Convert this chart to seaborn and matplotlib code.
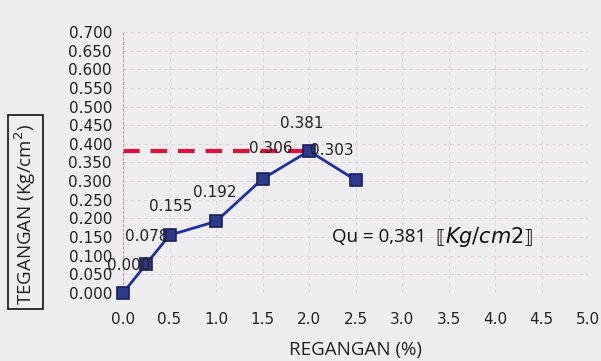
import matplotlib
matplotlib.use("Agg")
import matplotlib.pyplot as plt
from matplotlib.patches import Rectangle
import seaborn as sns
import pandas as pd
import numpy as np

# Strain (%) and stress (Kg/cm2) from the unconfined compression test
regangan = [0.0, 0.25, 0.5, 1.0, 1.5, 2.0, 2.5]
tegangan = [0.000, 0.078, 0.155, 0.192, 0.306, 0.381, 0.303]
label_teks = ["0.000", "0.078", "0.155", "0.192", "0.306", "0.381", "0.303"]
# label offsets in points (dx, dy) relative to each point
label_offset = [(4, 20), (0, 20), (1, 21), (-1, 21), (6, 22), (-5, 20), (-17, 21)]
qu = 0.381

xticks = [0.0, 0.5, 1.0, 1.5, 2.0, 2.5, 3.0, 3.5, 4.0, 4.5, 5.0]
yticks = [round(v, 3) for v in np.arange(0, 0.7001, 0.05)]

sns.set_theme(style="white")
plt.rcParams["font.family"] = ["DejaVu Sans"]

df = pd.DataFrame({"Regangan": regangan, "Tegangan": tegangan})

fig = plt.figure(figsize=(6.01, 3.61), dpi=100)
fig.patch.set_facecolor("#eeeef1")
ax = fig.add_axes([0.2047, 0.1884, 0.7737, 0.7230])
ax.set_facecolor("none")

# faint dashed grid
for yv in yticks[1:]:
    ax.axhline(yv, color="#e0d3d6", lw=0.7, ls=(0, (4, 3)), zorder=0)
for xv in xticks[1:]:
    ax.axvline(xv, color="#e0d3d6", lw=0.7, ls=(0, (4, 3)), zorder=0)

# Qu reference line
ax.plot([0, 2.0], [qu, qu], color="#e0103c", lw=3, ls=(0, (4, 2.6)), zorder=2)

sns.lineplot(data=df, x="Regangan", y="Tegangan", ax=ax, color="#1f2f9c",
             lw=2, marker="s", markersize=8, markerfacecolor="#2d3a8c",
             markeredgecolor="#1a1f5a", markeredgewidth=1.2, zorder=3,
             clip_on=False)

for x, y, t, (dx, dy) in zip(regangan, tegangan, label_teks, label_offset):
    ax.annotate(t, (x, y), xytext=(dx, dy), textcoords="offset points",
                ha="center", va="center", fontsize=11, color="#222222", zorder=4)

# Qu annotation: plain text, bracketed italic unit
ax.text(2.25, 0.150, "Qu = 0,381", fontsize=13.5, family="Open Sans",
        color="#111111", ha="left", va="center")
ax.text(3.36, 0.150, "⟦", fontsize=14, family="DejaVu Sans",
        color="#111111", ha="left", va="center")
ax.text(3.46, 0.150, r"$\mathit{Kg/cm2}$", fontsize=15, color="#111111",
        ha="left", va="center")
ax.text(4.30, 0.150, "⟧", fontsize=14, family="DejaVu Sans",
        color="#111111", ha="left", va="center")

ax.set_xlim(0, 5.0)
ax.set_ylim(0, 0.7)
ax.set_xticks(xticks)
ax.set_xticklabels([f"{v:.1f}" for v in xticks], fontsize=11, color="#222222")
ax.set_yticks(yticks)
ax.set_yticklabels([f"{v:.3f}" for v in yticks], fontsize=11, color="#222222")
ax.tick_params(axis="x", length=0, pad=14)
ax.tick_params(axis="y", length=3, pad=5, color="#c9a0a8", direction="out")

for s in ["top", "right", "bottom"]:
    ax.spines[s].set_visible(False)
ax.spines["left"].set_color("#c9a0a8")
ax.spines["left"].set_linestyle((0, (2, 2)))
ax.spines["left"].set_linewidth(0.8)

ax.set_xlabel("REGANGAN (%)", fontsize=13.5, family="Open Sans",
              color="#222222", labelpad=10)
ax.set_ylabel("")

# boxed vertical axis title
fig.patches.append(Rectangle((0.0133, 0.144), 0.058, 0.537,
                             transform=fig.transFigure, fill=False,
                             ec="#111111", lw=1.2))
fig.text(0.0424, 0.405, "TEGANGAN (Kg/cm$^{2}$)", rotation=90, fontsize=13.5,
         family="Open Sans", color="#222222", ha="center", va="center")

fig.savefig("out.png", dpi=100, facecolor=fig.get_facecolor())
